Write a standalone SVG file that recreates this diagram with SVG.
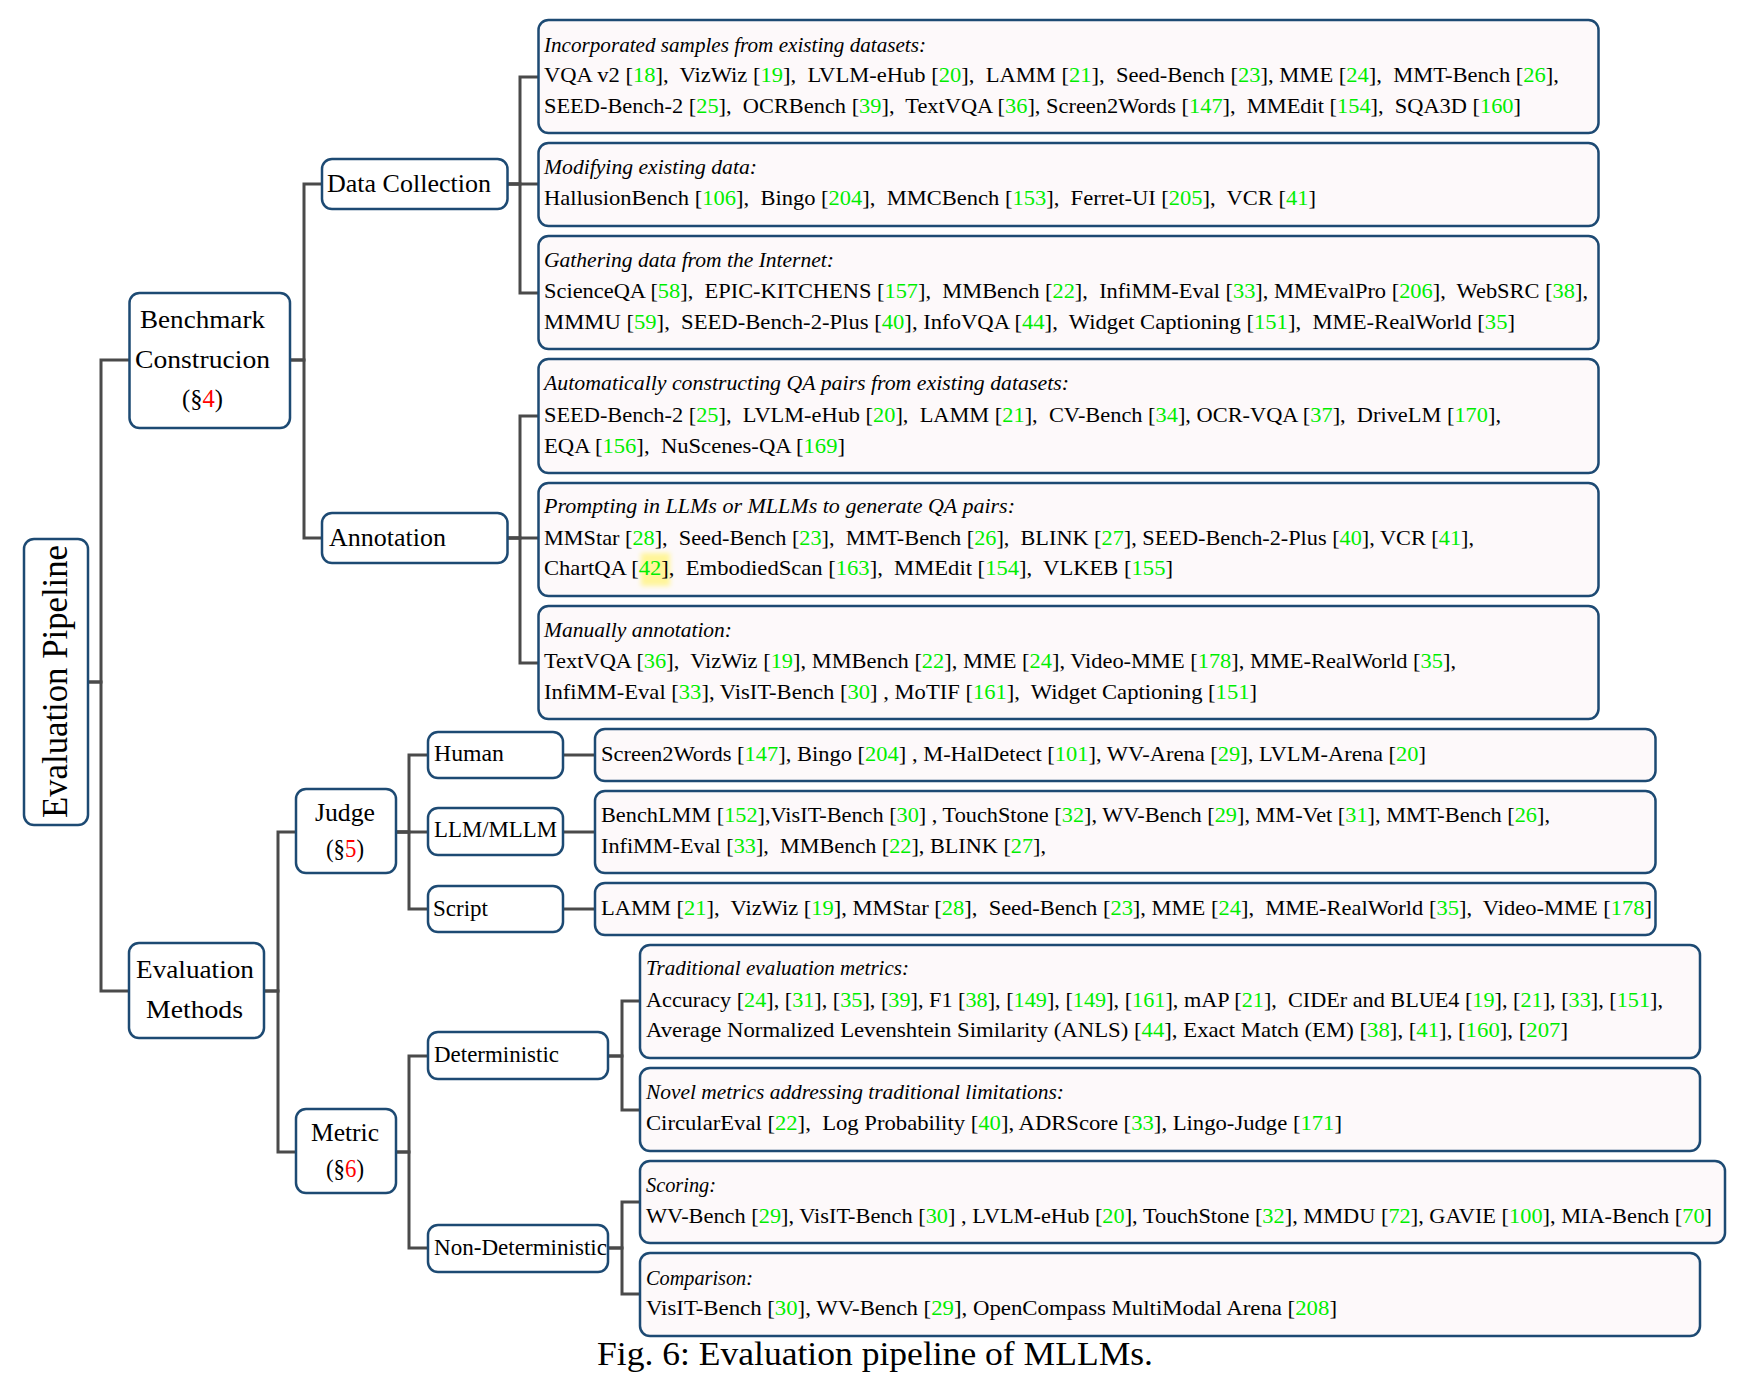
<svg xmlns="http://www.w3.org/2000/svg" width="1758" height="1392" viewBox="0 0 1758 1392">
<style>
text{font-family:"Liberation Serif","Times New Roman",serif;font-size:22px;fill:#000;white-space:pre}
.nd rect{fill:#fff;stroke:#1d4a73;stroke-width:2.5}
.lf rect{fill:#fdf9fa;stroke:#1d4a73;stroke-width:2.5}
.it{font-style:italic}
.big{font-size:24.5px}
.sm{font-size:23px}
.g{fill:#00ee00}
.r{fill:#ff0000}
#connectors path{fill:none;stroke:#4a4a4a;stroke-width:3}
</style>
<defs>
<filter id="blur" x="-50%" y="-50%" width="200%" height="200%"><feGaussianBlur stdDeviation="2.5"/></filter>
</defs>
<rect width="1758" height="1392" fill="#fff"/>
<g id="connectors">
<path d="M88 682H101V360H129.5"/>
<path d="M88 682H101V991H129"/>
<path d="M290 360H304V184H322"/>
<path d="M290 360H304V538H322"/>
<path d="M507 184H520V77H538.5"/>
<path d="M507 184H538.5"/>
<path d="M507 184H520V293H538.5"/>
<path d="M507 538H520V416H538.5"/>
<path d="M507 538H538.5"/>
<path d="M507 538H520V663H538.5"/>
<path d="M264 991H278V832H296"/>
<path d="M264 991H278V1152H296"/>
<path d="M396 832H409V755H428"/>
<path d="M396 832H428"/>
<path d="M396 832H409V909H428"/>
<path d="M563 755H595"/>
<path d="M563 832H595"/>
<path d="M563 909H595"/>
<path d="M396 1152H409V1056H428"/>
<path d="M396 1152H409V1248H428"/>
<path d="M608 1056H622V1001H640"/>
<path d="M608 1056H622V1110H640"/>
<path d="M608 1248H622V1202H640"/>
<path d="M608 1248H622V1294H640"/>
</g>
<g id="evaluation-pipeline" class="nd"><rect x="24" y="539" width="64" height="286" rx="10"/><text transform="translate(67 818) rotate(-90)" style="font-size:35px" textLength="273" lengthAdjust="spacingAndGlyphs">Evaluation Pipeline</text></g>
<g id="benchmark-construction" class="nd"><rect x="129.5" y="293" width="160.5" height="135" rx="10"/>
<text class="big" x="140" y="328" textLength="125" lengthAdjust="spacingAndGlyphs">Benchmark</text>
<text class="big" x="135" y="368" textLength="135" lengthAdjust="spacingAndGlyphs">Construcion</text>
<text class="big" x="182" y="407" textLength="41" lengthAdjust="spacingAndGlyphs">(§<tspan class="r">4</tspan>)</text></g>
<g id="evaluation-methods" class="nd"><rect x="129" y="943" width="135" height="95" rx="10"/>
<text class="big" x="136" y="978" textLength="118" lengthAdjust="spacingAndGlyphs">Evaluation</text>
<text class="big" x="146" y="1018" textLength="97" lengthAdjust="spacingAndGlyphs">Methods</text></g>
<g id="data-collection" class="nd"><rect x="322" y="159" width="185.5" height="50" rx="10"/><text class="big" x="327" y="192" textLength="164" lengthAdjust="spacingAndGlyphs">Data Collection</text></g>
<g id="annotation" class="nd"><rect x="322" y="513" width="185.5" height="50" rx="10"/><text class="big" x="329" y="546" textLength="117" lengthAdjust="spacingAndGlyphs">Annotation</text></g>
<g id="judge" class="nd"><rect x="296" y="789" width="100" height="84" rx="10"/>
<text class="big" x="315" y="821" textLength="60" lengthAdjust="spacingAndGlyphs">Judge</text>
<text class="big" x="326" y="857" textLength="38" lengthAdjust="spacingAndGlyphs">(§<tspan class="r">5</tspan>)</text></g>
<g id="metric" class="nd"><rect x="296" y="1109" width="100" height="84" rx="10"/>
<text class="big" x="311" y="1141" textLength="68" lengthAdjust="spacingAndGlyphs">Metric</text>
<text class="big" x="326" y="1177" textLength="38" lengthAdjust="spacingAndGlyphs">(§<tspan class="r">6</tspan>)</text></g>
<g id="human" class="nd"><rect x="428" y="732" width="135" height="46" rx="10"/><text class="sm" x="434" y="761" textLength="70" lengthAdjust="spacingAndGlyphs">Human</text></g>
<g id="llm-mllm" class="nd"><rect x="428" y="808" width="135" height="47" rx="10"/><text class="sm" x="434" y="837" textLength="123" lengthAdjust="spacingAndGlyphs">LLM/MLLM</text></g>
<g id="script" class="nd"><rect x="428" y="886" width="135" height="46" rx="10"/><text class="sm" x="433" y="916" textLength="55" lengthAdjust="spacingAndGlyphs">Script</text></g>
<g id="deterministic" class="nd"><rect x="428" y="1032" width="180" height="47" rx="10"/><text class="sm" x="434" y="1062" textLength="125" lengthAdjust="spacingAndGlyphs">Deterministic</text></g>
<g id="non-deterministic" class="nd"><rect x="428" y="1225" width="180" height="47" rx="10"/><text class="sm" x="434" y="1255" textLength="173" lengthAdjust="spacingAndGlyphs">Non-Deterministic</text></g>

<g id="leaf-incorporated" class="lf"><rect x="538.5" y="20" width="1060" height="113" rx="10"/>
<text class="it" x="544" y="52" textLength="382" lengthAdjust="spacingAndGlyphs">Incorporated samples from existing datasets:</text>
<text x="544" y="82" textLength="1015" lengthAdjust="spacingAndGlyphs">VQA v2 [<tspan class="g">18</tspan>],  VizWiz [<tspan class="g">19</tspan>],  LVLM-eHub [<tspan class="g">20</tspan>],  LAMM [<tspan class="g">21</tspan>],  Seed-Bench [<tspan class="g">23</tspan>], MME [<tspan class="g">24</tspan>],  MMT-Bench [<tspan class="g">26</tspan>],</text>
<text x="544" y="113" textLength="977" lengthAdjust="spacingAndGlyphs">SEED-Bench-2 [<tspan class="g">25</tspan>],  OCRBench [<tspan class="g">39</tspan>],  TextVQA [<tspan class="g">36</tspan>], Screen2Words [<tspan class="g">147</tspan>],  MMEdit [<tspan class="g">154</tspan>],  SQA3D [<tspan class="g">160</tspan>]</text></g>
<g id="leaf-modifying" class="lf"><rect x="538.5" y="143" width="1060" height="83" rx="10"/>
<text class="it" x="544" y="174" textLength="213" lengthAdjust="spacingAndGlyphs">Modifying existing data:</text>
<text x="544" y="205" textLength="772" lengthAdjust="spacingAndGlyphs">HallusionBench [<tspan class="g">106</tspan>],  Bingo [<tspan class="g">204</tspan>],  MMCBench [<tspan class="g">153</tspan>],  Ferret-UI [<tspan class="g">205</tspan>],  VCR [<tspan class="g">41</tspan>]</text></g>
<g id="leaf-gathering" class="lf"><rect x="538.5" y="236" width="1060" height="113" rx="10"/>
<text class="it" x="544" y="267" textLength="290" lengthAdjust="spacingAndGlyphs">Gathering data from the Internet:</text>
<text x="544" y="298" textLength="1044" lengthAdjust="spacingAndGlyphs">ScienceQA [<tspan class="g">58</tspan>],  EPIC-KITCHENS [<tspan class="g">157</tspan>],  MMBench [<tspan class="g">22</tspan>],  InfiMM-Eval [<tspan class="g">33</tspan>], MMEvalPro [<tspan class="g">206</tspan>],  WebSRC [<tspan class="g">38</tspan>],</text>
<text x="544" y="329" textLength="971" lengthAdjust="spacingAndGlyphs">MMMU [<tspan class="g">59</tspan>],  SEED-Bench-2-Plus [<tspan class="g">40</tspan>], InfoVQA [<tspan class="g">44</tspan>],  Widget Captioning [<tspan class="g">151</tspan>],  MME-RealWorld [<tspan class="g">35</tspan>]</text></g>
<g id="leaf-automatic" class="lf"><rect x="538.5" y="359" width="1060" height="114" rx="10"/>
<text class="it" x="544" y="390" textLength="525" lengthAdjust="spacingAndGlyphs">Automatically constructing QA pairs from existing datasets:</text>
<text x="544" y="422" textLength="957" lengthAdjust="spacingAndGlyphs">SEED-Bench-2 [<tspan class="g">25</tspan>],  LVLM-eHub [<tspan class="g">20</tspan>],  LAMM [<tspan class="g">21</tspan>],  CV-Bench [<tspan class="g">34</tspan>], OCR-VQA [<tspan class="g">37</tspan>],  DriveLM [<tspan class="g">170</tspan>],</text>
<text x="544" y="453" textLength="301" lengthAdjust="spacingAndGlyphs">EQA [<tspan class="g">156</tspan>],  NuScenes-QA [<tspan class="g">169</tspan>]</text></g>
<g id="leaf-prompting" class="lf"><rect x="538.5" y="483" width="1060" height="113" rx="10"/>
<rect x="641" y="553" width="29" height="33" style="fill:#fff59a;stroke:none" filter="url(#blur)"/>
<text class="it" x="544" y="513" textLength="471" lengthAdjust="spacingAndGlyphs">Prompting in LLMs or MLLMs to generate QA pairs:</text>
<text x="544" y="545" textLength="930" lengthAdjust="spacingAndGlyphs">MMStar [<tspan class="g">28</tspan>],  Seed-Bench [<tspan class="g">23</tspan>],  MMT-Bench [<tspan class="g">26</tspan>],  BLINK [<tspan class="g">27</tspan>], SEED-Bench-2-Plus [<tspan class="g">40</tspan>], VCR [<tspan class="g">41</tspan>],</text>
<text x="544" y="575" textLength="629" lengthAdjust="spacingAndGlyphs">ChartQA [<tspan class="g">42</tspan>],  EmbodiedScan [<tspan class="g">163</tspan>],  MMEdit [<tspan class="g">154</tspan>],  VLKEB [<tspan class="g">155</tspan>]</text></g>
<g id="leaf-manual" class="lf"><rect x="538.5" y="606" width="1060" height="113" rx="10"/>
<text class="it" x="544" y="637" textLength="188" lengthAdjust="spacingAndGlyphs">Manually annotation:</text>
<text x="544" y="668" textLength="912" lengthAdjust="spacingAndGlyphs">TextVQA [<tspan class="g">36</tspan>],  VizWiz [<tspan class="g">19</tspan>], MMBench [<tspan class="g">22</tspan>], MME [<tspan class="g">24</tspan>], Video-MME [<tspan class="g">178</tspan>], MME-RealWorld [<tspan class="g">35</tspan>],</text>
<text x="544" y="699" textLength="713" lengthAdjust="spacingAndGlyphs">InfiMM-Eval [<tspan class="g">33</tspan>], VisIT-Bench [<tspan class="g">30</tspan>] , MoTIF [<tspan class="g">161</tspan>],  Widget Captioning [<tspan class="g">151</tspan>]</text></g>

<g id="leaf-human" class="lf"><rect x="595" y="729" width="1060.5" height="52" rx="10"/>
<text x="601" y="761" textLength="825" lengthAdjust="spacingAndGlyphs">Screen2Words [<tspan class="g">147</tspan>], Bingo [<tspan class="g">204</tspan>] , M-HalDetect [<tspan class="g">101</tspan>], WV-Arena [<tspan class="g">29</tspan>], LVLM-Arena [<tspan class="g">20</tspan>]</text></g>
<g id="leaf-llm" class="lf"><rect x="595" y="791" width="1060.5" height="82" rx="10"/>
<text x="601" y="822" textLength="949" lengthAdjust="spacingAndGlyphs">BenchLMM [<tspan class="g">152</tspan>],VisIT-Bench [<tspan class="g">30</tspan>] , TouchStone [<tspan class="g">32</tspan>], WV-Bench [<tspan class="g">29</tspan>], MM-Vet [<tspan class="g">31</tspan>], MMT-Bench [<tspan class="g">26</tspan>],</text>
<text x="601" y="853" textLength="445" lengthAdjust="spacingAndGlyphs">InfiMM-Eval [<tspan class="g">33</tspan>],  MMBench [<tspan class="g">22</tspan>], BLINK [<tspan class="g">27</tspan>],</text></g>
<g id="leaf-script" class="lf"><rect x="595" y="883" width="1060.5" height="52" rx="10"/>
<text x="601" y="915" textLength="1051" lengthAdjust="spacingAndGlyphs">LAMM [<tspan class="g">21</tspan>],  VizWiz [<tspan class="g">19</tspan>], MMStar [<tspan class="g">28</tspan>],  Seed-Bench [<tspan class="g">23</tspan>], MME [<tspan class="g">24</tspan>],  MME-RealWorld [<tspan class="g">35</tspan>],  Video-MME [<tspan class="g">178</tspan>]</text></g>

<g id="leaf-traditional" class="lf"><rect x="640" y="945" width="1060" height="113" rx="10"/>
<text class="it" x="646" y="975" textLength="263" lengthAdjust="spacingAndGlyphs">Traditional evaluation metrics:</text>
<text x="646" y="1007" textLength="1017" lengthAdjust="spacingAndGlyphs">Accuracy [<tspan class="g">24</tspan>], [<tspan class="g">31</tspan>], [<tspan class="g">35</tspan>], [<tspan class="g">39</tspan>], F1 [<tspan class="g">38</tspan>], [<tspan class="g">149</tspan>], [<tspan class="g">149</tspan>], [<tspan class="g">161</tspan>], mAP [<tspan class="g">21</tspan>],  CIDEr and BLUE4 [<tspan class="g">19</tspan>], [<tspan class="g">21</tspan>], [<tspan class="g">33</tspan>], [<tspan class="g">151</tspan>],</text>
<text x="646" y="1037" textLength="922" lengthAdjust="spacingAndGlyphs">Average Normalized Levenshtein Similarity (ANLS) [<tspan class="g">44</tspan>], Exact Match (EM) [<tspan class="g">38</tspan>], [<tspan class="g">41</tspan>], [<tspan class="g">160</tspan>], [<tspan class="g">207</tspan>]</text></g>
<g id="leaf-novel" class="lf"><rect x="640" y="1068" width="1060" height="83" rx="10"/>
<text class="it" x="646" y="1099" textLength="418" lengthAdjust="spacingAndGlyphs">Novel metrics addressing traditional limitations:</text>
<text x="646" y="1130" textLength="696" lengthAdjust="spacingAndGlyphs">CircularEval [<tspan class="g">22</tspan>],  Log Probability [<tspan class="g">40</tspan>], ADRScore [<tspan class="g">33</tspan>], Lingo-Judge [<tspan class="g">171</tspan>]</text></g>
<g id="leaf-scoring" class="lf"><rect x="640" y="1161" width="1085" height="82" rx="10"/>
<text class="it" x="646" y="1192" textLength="70" lengthAdjust="spacingAndGlyphs">Scoring:</text>
<text x="646" y="1223" textLength="1066" lengthAdjust="spacingAndGlyphs">WV-Bench [<tspan class="g">29</tspan>], VisIT-Bench [<tspan class="g">30</tspan>] , LVLM-eHub [<tspan class="g">20</tspan>], TouchStone [<tspan class="g">32</tspan>], MMDU [<tspan class="g">72</tspan>], GAVIE [<tspan class="g">100</tspan>], MIA-Bench [<tspan class="g">70</tspan>]</text></g>
<g id="leaf-comparison" class="lf"><rect x="640" y="1253" width="1060" height="83" rx="10"/>
<text class="it" x="646" y="1285" textLength="107" lengthAdjust="spacingAndGlyphs">Comparison:</text>
<text x="646" y="1315" textLength="691" lengthAdjust="spacingAndGlyphs">VisIT-Bench [<tspan class="g">30</tspan>], WV-Bench [<tspan class="g">29</tspan>], OpenCompass MultiModal Arena [<tspan class="g">208</tspan>]</text></g>

<text x="597" y="1365" style="font-size:33px" textLength="556" lengthAdjust="spacingAndGlyphs">Fig. 6: Evaluation pipeline of MLLMs.</text>
</svg>
